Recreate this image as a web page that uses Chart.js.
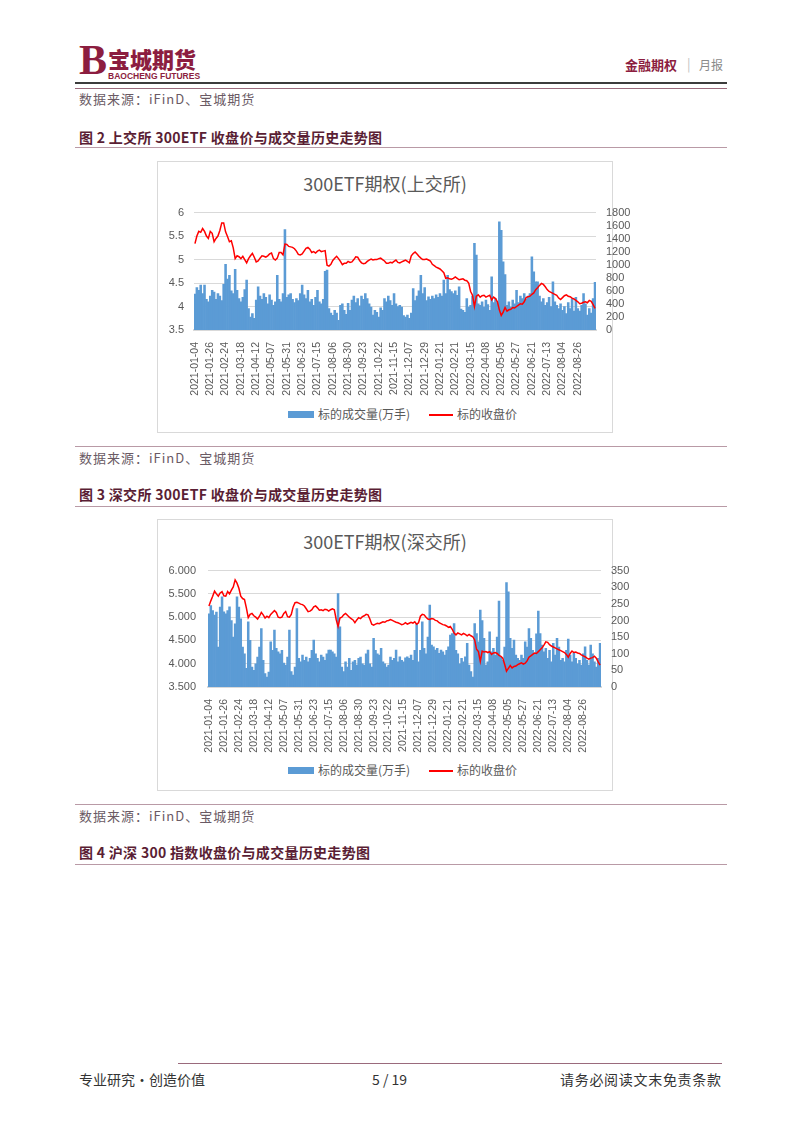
<!DOCTYPE html>
<html><head><meta charset="utf-8">
<script src="https://cdn.jsdelivr.net/npm/chart.js@4.4.0/dist/chart.umd.min.js"></script>
<style>
html,body{margin:0;padding:0;background:#fff;}
body{width:802px;height:1133px;position:relative;overflow:hidden;font-family:"Noto Sans CJK SC","Noto Sans",sans-serif;}
.a{position:absolute;white-space:nowrap;}
.src{font-size:13px;line-height:16px;color:#6a5a64;letter-spacing:1px;}
.fig{font-size:14px;line-height:18px;color:#5a1e34;font-weight:700;letter-spacing:0.3px;}
.hl{position:absolute;left:75px;width:652px;height:1px;background:#b99aa6;}
.box{position:absolute;border:1px solid #d9d9d9;box-sizing:border-box;}
.ctitle{font-size:18px;line-height:22px;color:#595959;text-align:center;width:456px;left:157px;}
.leg{font-size:12px;line-height:14px;color:#595959;}
</style></head><body>

<!-- header -->
<div class="a" style="left:79px;top:36px;font-family:'Liberation Serif',serif;font-weight:700;font-size:42px;line-height:48px;color:#8c1d40;">B</div>
<div class="a" style="left:108px;top:44px;font-size:22px;line-height:28px;font-weight:900;color:#8c1d40;">宝城期货</div>
<div class="a" style="left:108px;top:71px;font-family:'Liberation Sans Narrow','Liberation Sans',sans-serif;font-size:8.5px;line-height:10px;font-weight:700;color:#8c1d40;">BAOCHENG FUTURES</div>
<div class="a" style="left:625px;top:57px;font-size:13px;line-height:16px;font-weight:700;color:#8c1d40;">金融期权</div>
<div class="a" style="left:687px;top:56px;font-size:13px;line-height:16px;color:#c0c0c0;">|</div>
<div class="a" style="left:699px;top:57px;font-size:12px;line-height:16px;color:#8a8a8a;">月报</div>
<div class="a" style="left:75px;top:82px;width:652px;height:2px;background:#3c3c3c;"></div>
<div class="a" style="left:75px;top:88px;width:652px;height:1px;background:#9a6a7c;"></div>

<div class="a src" style="left:79px;top:91px;">数据来源：iFinD、宝城期货</div>
<div class="a fig" style="left:79px;top:128px;">图 2 上交所 300ETF 收盘价与成交量历史走势图</div>
<div class="hl" style="top:147px;"></div>

<!-- chart 1 -->
<div class="box" style="left:157px;top:161px;width:456px;height:272px;"></div>
<div class="a ctitle" style="top:172px;">300ETF期权(上交所)</div>
<canvas id="c1" class="a" style="left:157px;top:200px;" width="479" height="200"></canvas>
<div class="a" style="left:288px;top:411px;width:26px;height:7px;background:#5b9bd5;"></div>
<div class="a leg" style="left:318px;top:407px;">标的成交量(万手)</div>
<div class="a" style="left:429px;top:414px;width:24px;height:2px;background:#ff0000;"></div>
<div class="a leg" style="left:457px;top:407px;">标的收盘价</div>

<div class="hl" style="top:446px;"></div>
<div class="a src" style="left:79px;top:450px;">数据来源：iFinD、宝城期货</div>
<div class="a fig" style="left:79px;top:485px;">图 3 深交所 300ETF 收盘价与成交量历史走势图</div>
<div class="hl" style="top:506px;"></div>

<!-- chart 2 -->
<div class="box" style="left:157px;top:519px;width:456px;height:272px;"></div>
<div class="a ctitle" style="top:530px;">300ETF期权(深交所)</div>
<canvas id="c2" class="a" style="left:157px;top:558px;" width="484" height="200"></canvas>
<div class="a" style="left:288px;top:767px;width:26px;height:7px;background:#5b9bd5;"></div>
<div class="a leg" style="left:318px;top:763px;">标的成交量(万手)</div>
<div class="a" style="left:429px;top:770px;width:24px;height:2px;background:#ff0000;"></div>
<div class="a leg" style="left:457px;top:763px;">标的收盘价</div>

<div class="hl" style="top:804px;"></div>
<div class="a src" style="left:79px;top:808px;">数据来源：iFinD、宝城期货</div>
<div class="a fig" style="left:79px;top:843px;">图 4 沪深 300 指数收盘价与成交量历史走势图</div>
<div class="hl" style="top:864px;"></div>

<!-- footer -->
<div class="a" style="left:178px;top:1063px;width:544px;height:1px;background:#9a6a7c;"></div>
<div class="a" style="left:79px;top:1070px;font-size:14px;line-height:18px;color:#333;">专业研究·创造价值</div>
<div class="a" style="left:372px;top:1070px;font-size:14px;line-height:18px;color:#333;">5 / 19</div>
<div class="a" style="left:560px;top:1070px;font-size:14px;line-height:18px;color:#333;letter-spacing:0.7px;">请务必阅读文末免责条款</div>

<script>
// tick labels shown on the category axis (one every 8 points)
const tickDates = ['2021-01-04','2021-01-26','2021-02-24','2021-03-18','2021-04-12','2021-05-07','2021-05-31','2021-06-23','2021-07-15','2021-08-06','2021-08-30','2021-09-23','2021-10-22','2021-11-15','2021-12-07','2021-12-29','2022-01-21','2022-02-21','2022-03-15','2022-04-08','2022-05-05','2022-05-27','2022-06-21','2022-07-13','2022-08-04','2022-08-26'];

// 上交所 300ETF
const shPrice = [
5.34,5.50,5.60,5.58,5.66,5.60,5.50,5.45,5.60,5.56,
5.38,5.45,5.50,5.62,5.78,5.78,5.59,5.49,5.38,5.40,
5.25,5.02,5.08,5.06,5.02,5.07,5.00,4.93,5.02,5.08,
5.13,5.05,4.95,4.97,5.03,5.08,5.07,5.05,5.08,5.12,
5.14,5.02,4.99,5.03,5.15,5.15,5.10,5.33,5.32,5.28,
5.27,5.26,5.23,5.18,5.11,5.10,5.12,5.18,5.24,5.26,
5.22,5.15,5.17,5.14,5.18,5.20,5.17,5.18,5.19,4.88,
4.86,4.90,4.98,5.03,5.07,5.02,4.96,4.89,4.92,4.92,
4.96,4.94,4.95,5.00,5.06,5.05,4.98,4.93,4.91,4.92,
4.96,4.99,5.01,4.99,5.00,5.00,5.02,5.03,5.00,4.97,
4.92,4.92,4.94,4.93,4.96,4.99,4.94,4.93,4.95,4.97,
4.99,4.96,4.93,5.08,5.13,5.16,5.12,5.07,5.03,5.00,
5.00,5.01,4.99,4.97,4.90,4.87,4.84,4.82,4.80,4.76,
4.72,4.60,4.61,4.59,4.58,4.60,4.63,4.60,4.57,4.58,
4.59,4.56,4.55,4.50,4.32,4.24,4.00,4.22,4.25,4.20,
4.23,4.24,4.20,4.22,4.24,4.14,4.20,4.17,4.10,3.93,
3.81,3.88,3.98,3.90,3.93,3.94,3.98,3.97,4.00,4.03,
4.06,4.05,4.10,4.19,4.21,4.22,4.26,4.29,4.36,4.40,
4.45,4.49,4.47,4.42,4.36,4.32,4.30,4.28,4.26,4.24,
4.18,4.15,4.19,4.23,4.25,4.22,4.21,4.18,4.16,4.13,
4.10,4.06,4.07,4.09,4.10,4.08,4.13,4.11,4.04,3.96];
const shVolume = [
550,650,610,690,560,690,470,430,520,610,
580,470,560,520,450,700,1005,780,840,600,
560,930,610,480,430,500,620,765,330,200,
250,180,460,660,520,470,560,500,400,540,
460,380,430,840,470,430,560,1540,500,540,
560,470,420,480,450,560,690,540,480,610,
430,470,380,500,610,430,400,470,900,920,
330,260,225,300,260,150,380,400,300,240,
410,300,460,520,420,480,370,520,470,560,
480,400,350,230,300,270,200,340,300,480,
430,520,450,380,560,400,360,380,350,220,
200,230,180,260,635,450,520,600,840,560,
650,450,510,470,520,480,540,500,560,520,
765,560,840,620,590,560,600,530,660,320,
300,270,480,350,380,520,1330,1150,400,380,
430,350,460,390,300,815,420,480,420,1660,
1530,1045,850,380,430,350,460,400,610,420,
520,480,560,470,520,560,1120,890,740,740,
520,430,480,380,420,500,360,740,430,380,
330,400,300,360,250,420,330,480,290,500,
330,290,380,560,400,230,330,260,480,730];

// 深交所 300ETF
const szPrice = [
5.24,5.35,5.45,5.56,5.50,5.45,5.52,5.55,5.46,5.45,
5.55,5.50,5.58,5.65,5.80,5.73,5.62,5.45,5.40,5.38,
5.20,4.99,5.06,5.08,5.03,5.00,4.96,5.02,5.10,5.05,
4.98,5.02,4.99,5.06,5.10,5.14,5.10,5.00,4.99,5.00,
5.08,5.12,5.01,5.00,5.06,5.22,5.31,5.32,5.30,5.28,
5.27,5.24,5.18,5.12,5.13,5.16,5.22,5.24,5.20,5.15,
5.16,5.14,5.17,5.16,5.13,5.16,5.18,5.16,4.95,4.80,
4.98,5.00,5.05,5.08,5.04,5.00,4.97,4.94,4.88,4.94,
4.99,4.97,5.01,5.03,5.06,5.05,4.96,4.85,4.83,4.85,
4.87,4.86,4.88,4.90,4.89,4.92,4.93,4.95,4.93,4.91,
4.89,4.88,4.86,4.84,4.85,4.88,4.85,4.87,4.89,4.87,
4.90,4.85,4.88,5.02,5.06,5.05,5.00,4.96,4.95,4.97,
4.96,4.93,4.92,4.88,4.86,4.84,4.83,4.81,4.78,4.80,
4.74,4.66,4.62,4.66,4.64,4.62,4.65,4.63,4.60,4.63,
4.60,4.58,4.51,4.31,4.26,4.05,4.27,4.25,4.26,4.24,
4.26,4.20,4.23,4.24,4.22,4.18,4.16,4.12,3.99,3.84,
3.90,3.96,3.91,3.94,3.95,3.98,4.00,4.02,3.99,4.01,
4.06,4.14,4.17,4.20,4.23,4.22,4.26,4.30,4.34,4.40,
4.47,4.46,4.41,4.38,4.36,4.34,4.32,4.30,4.28,4.26,
4.24,4.20,4.14,4.22,4.27,4.24,4.25,4.23,4.22,4.19,
4.17,4.15,4.12,4.10,4.12,4.13,4.16,4.12,4.04,3.97];
const szVolume = [
220,245,230,216,225,120,240,271,226,220,
230,241,200,150,190,271,240,205,120,100,
56,196,140,60,50,70,90,120,176,80,
40,30,45,136,110,171,116,106,100,110,
72,66,90,171,46,36,60,236,86,76,
96,80,90,76,86,110,141,100,86,76,
96,90,80,100,111,111,106,100,90,281,
181,60,46,76,60,86,50,76,80,66,
86,90,70,66,100,111,70,60,146,110,
100,96,116,76,70,60,66,90,80,86,
111,76,91,80,76,88,91,86,96,80,
110,191,76,110,196,116,100,150,246,126,
121,111,116,101,111,106,96,110,121,156,
161,191,110,100,70,86,76,91,131,66,
46,30,191,161,136,231,200,146,66,76,
166,106,116,96,150,258,90,80,120,314,
286,146,116,141,96,86,80,96,86,136,
120,176,146,110,100,160,228,161,126,106,
116,86,110,76,131,96,146,120,80,86,
76,110,144,96,76,101,86,70,80,66,
100,121,80,66,126,100,76,60,86,131];

function makeLabels(n){
  const a = [];
  for (let i = 0; i < n; i++) a.push(i % 8 === 0 && tickDates[i / 8] ? tickDates[i / 8] : '');
  return a;
}
const tickFont = {family:"'Liberation Sans', Arial, sans-serif", size:11};
const xFont = {family:"'Liberation Sans', Arial, sans-serif", size:10.5};
const tickColor = '#595959';

function build(id, price, vol, o){
  const chart = new Chart(document.getElementById(id), {
    type:'bar',
    data:{
      labels: makeLabels(price.length),
      datasets:[
        {type:'line', label:'标的收盘价', data:price, yAxisID:'y', borderColor:'#ff0000', borderWidth:1.5, pointRadius:0, tension:0, order:0},
        {type:'bar', label:'标的成交量(万手)', data:vol, yAxisID:'y1', backgroundColor:'#5b9bd5', borderWidth:0, barPercentage:1, categoryPercentage:1, order:1}
      ]
    },
    options:{
      responsive:false, maintainAspectRatio:false, animation:false, devicePixelRatio:1,
      layout:{padding:0},
      plugins:{legend:{display:false}, title:{display:false}, tooltip:{enabled:false}},
      scales:{
        x:{
          grid:{display:false},
          border:{display:true, color:'#d9d9d9', width:2},
          ticks:{autoSkip:false, maxRotation:90, minRotation:90, padding:o.xPad, color:tickColor, font:xFont},
          afterFit(s){ s.height = o.xH; }
        },
        y:{
          position:'left', min:3.5, max:6,
          ticks:{stepSize:0.5, autoSkip:false, padding:o.lPad, color:tickColor, font:tickFont, callback:o.lFmt},
          grid:{color:'#d9d9d9', drawTicks:false},
          border:{display:false},
          afterFit(s){ s.width = o.lW; }
        },
        y1:{
          position:'right', min:0, max:o.vMax,
          ticks:{stepSize:o.vStep, autoSkip:false, padding:o.rPad, color:tickColor, font:tickFont, callback:v => String(v)},
          grid:{display:false, drawTicks:false},
          border:{display:false},
          afterFit(s){ s.width = o.rW; }
        }
      }
    }
  });
  // size the canvas so that the plot area spans the wanted page rows
  const want = o.plotBottom - o.plotTop;
  for (let k = 0; k < 3; k++) {
    const have = chart.chartArea.bottom - chart.chartArea.top;
    const diff = Math.round(want - have);
    if (diff === 0) break;
    chart.resize(chart.width, chart.height + diff);
  }
  chart.canvas.style.top = (o.plotTop - chart.chartArea.top) + 'px';
  return chart;
}

build('c1', shPrice, shVolume, {xPad:4, xH:70, lPad:10, lW:37, rPad:10, rW:40, vMax:1800, vStep:200, lFmt:v => String(v), plotTop:213, plotBottom:330});
build('c2', szPrice, szVolume, {xPad:4, xH:68, lPad:12, lW:51, rPad:10, rW:40, vMax:350, vStep:50, lFmt:v => Number(v).toFixed(3), plotTop:571, plotBottom:687});
</script>
</body></html>
